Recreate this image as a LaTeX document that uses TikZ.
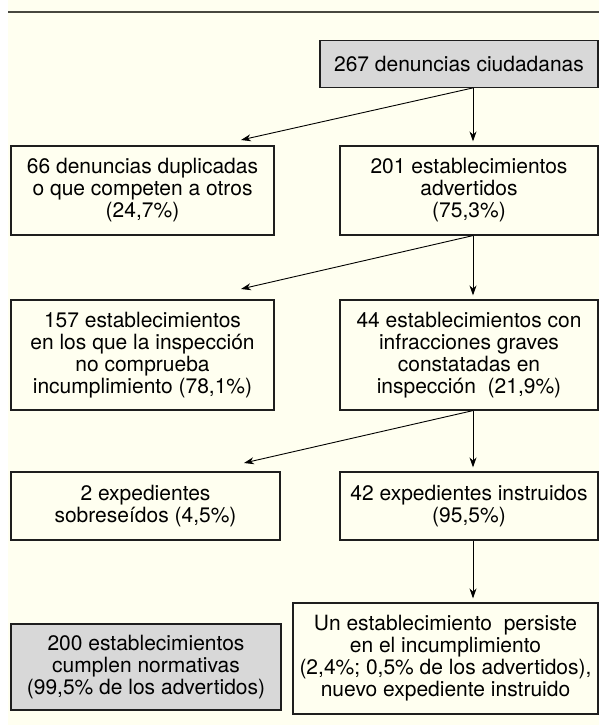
\documentclass[tikz,border=0pt]{standalone}
\usepackage{fontspec}
\setmainfont{TeX Gyre Heros}
\usetikzlibrary{arrows.meta}
\definecolor{paper}{RGB}{255,255,240}
\definecolor{boxgray}{RGB}{216,216,216}
\definecolor{rulegray}{RGB}{72,72,64}
\definecolor{edgegray}{RGB}{30,30,30}

\begin{document}
\begin{tikzpicture}[x=1pt,y=-1pt,
  box/.style={draw=edgegray, line width=1.2pt, fill=paper, inner sep=0pt, align=center, font=\fontsize{21}{22}\selectfont},
  greybox/.style={box, fill=boxgray},
  flow/.style={-{Stealth[length=10pt,width=7pt]}, line width=0.9pt, shorten >=4pt}]
\useasboundingbox (0,0) rectangle (599,725);

%Shape: Background
\fill [paper] (8,0) rectangle (599,725);
%Straight Lines: top rule
\draw [rulegray, line width=1.8pt] (8,11.7) -- (599,11.7);

%Shape: Rectangle
\node [greybox, minimum width=278, minimum height=46.6] (denuncias) at (459,64) {267 denuncias ciudadanas};
%Shape: Rectangle
\node [box, minimum width=263, minimum height=89] (duplicadas) at (142.5,190.5) {66 denuncias duplicadas\\o que competen a otros\\(24,7\%)};
%Shape: Rectangle
\node [box, minimum width=258, minimum height=89] (advertidos) at (469,190.5) {201 establecimientos\\advertidos\\(75,3\%)};
%Shape: Rectangle
\node [box, minimum width=263, minimum height=110] (nocomprueba) at (142.5,355) {157 establecimientos\\en los que la inspección\\no comprueba\\incumplimiento (78,1\%)};
%Shape: Rectangle
\node [box, minimum width=258, minimum height=110] (graves) at (469,355) {44 establecimientos con\\infracciones graves\\constatadas en\\inspección\ \ (21,9\%)};
%Shape: Rectangle
\node [box, minimum width=269, minimum height=68] (sobreseidos) at (145.5,506) {2 expedientes\\sobreseídos (4,5\%)};
%Shape: Rectangle
\node [box, minimum width=258, minimum height=68] (instruidos) at (469,506) {42 expedientes instruidos\\(95,5\%)};
%Shape: Rectangle
\node [box, minimum width=305, minimum height=111] (persiste) at (445.5,658.5) {Un establecimiento\ \ persiste\\en el incumplimiento\\(2,4\%; 0,5\% de los advertidos),\\nuevo expediente instruido};
%Shape: Rectangle
\node [greybox, minimum width=270, minimum height=86] (cumplen) at (146,667) {200 establecimientos\\cumplen normativas\\(99,5\% de los advertidos)};

% arrow column and tips of the side arrows
\coordinate (colx) at (473,0);
\coordinate (tipdup) at (241,140);
\coordinate (tipnoc) at (241,289);
\coordinate (tipsob) at (244,463);

%Straight Lines
\draw [flow] (denuncias.south -| colx) -- (advertidos.north -| colx);
\draw [flow, shorten >=0pt] (denuncias.south -| colx) -- (tipdup);
%Straight Lines
\draw [flow] (advertidos.south -| colx) -- (graves.north -| colx);
\draw [flow, shorten >=0pt] (advertidos.south -| colx) -- (tipnoc);
%Straight Lines
\draw [flow] (graves.south -| colx) -- (instruidos.north -| colx);
\draw [flow, shorten >=0pt] (graves.south -| colx) -- (tipsob);
%Straight Lines
\draw [flow] (instruidos.south -| colx) -- (persiste.north -| colx);

\end{tikzpicture}
\end{document}
